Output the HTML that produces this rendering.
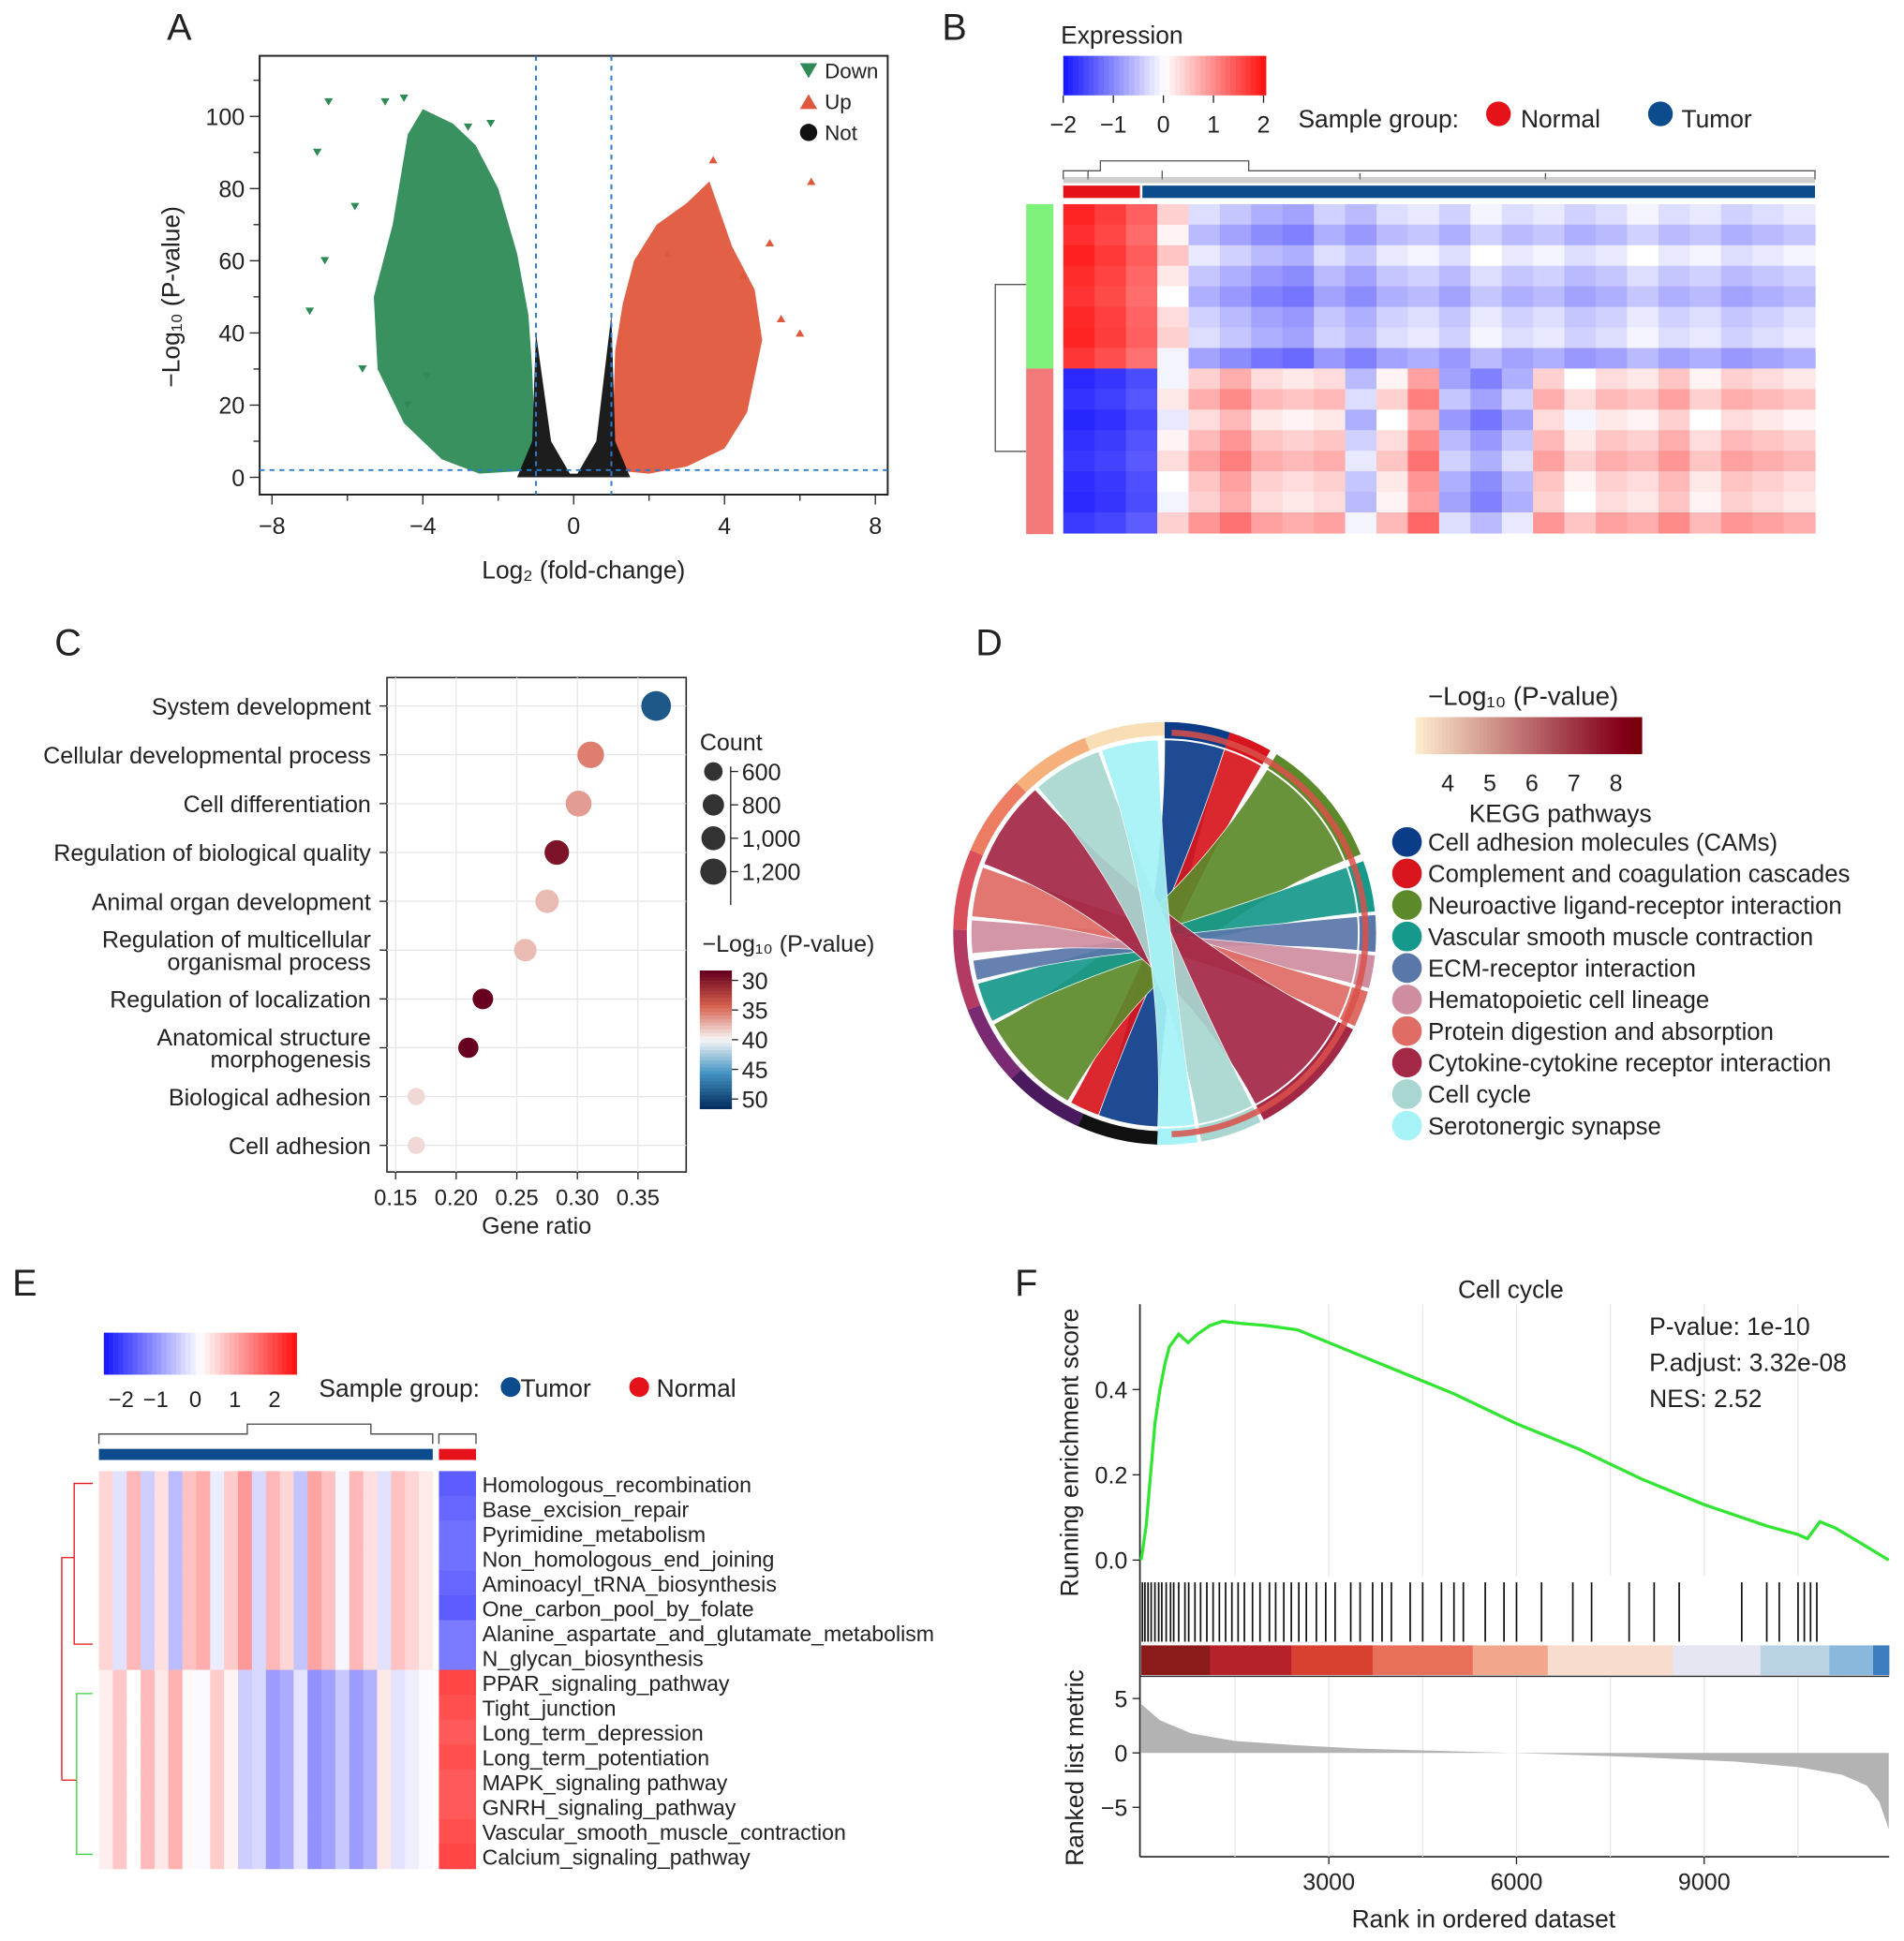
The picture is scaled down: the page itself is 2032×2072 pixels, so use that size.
<!DOCTYPE html>
<html><head><meta charset="utf-8">
<style>
html,body{margin:0;padding:0;background:#fff}
svg{display:block;font-family:"Liberation Sans",sans-serif}
</style></head>
<body>
<svg id="fig" xmlns="http://www.w3.org/2000/svg" width="2032" height="2072" viewBox="0 0 1540 1570">
<g id="A"></g>
<g id="B"></g>
<g id="C"></g>
<g id="D"></g>
<g id="E"></g>
<g id="F"></g>
</svg>
<script>
// ---------- data ----------
const volXTicks=[-8,-4,0,4,8];
const volYTicks=[0,20,40,60,80,100];
const downEnvelope=[[-1,2],[-1.1,30],[-1.2,45],[-1.5,62],[-2,80],[-2.6,92],[-3.2,98],[-4,102],[-4.4,95],[-4.8,70],[-5.3,50],[-5.2,30],[-4.5,15],[-3.5,5],[-2.5,1]];
const upEnvelope=[[1,2],[1.1,35],[1.3,48],[1.6,60],[2.2,70],[3,76],[3.6,82],[4.2,64],[4.8,52],[5,38],[4.6,18],[4,8],[3,3],[2,1]];
const notEnvelope=[[-1.5,0],[-1.1,10],[-1,40],[-0.6,10],[-0.1,1],[0.1,1],[0.6,10],[1,45],[1.1,10],[1.5,0]];
const downOut=[[-6.5,104],[-5,104],[-4.5,105],[-6.8,90],[-7,46],[-6.6,60],[-5.8,75],[-5.6,30],[-3.9,28],[-4.4,20],[-2.8,97],[-2.2,98]];
const upOut=[[6.3,82],[3.7,88],[6,40],[5.5,44],[5.2,65],[2.5,62],[4.5,56]];
const goTerms=["System development","Cellular developmental process","Cell differentiation","Regulation of biological quality","Animal organ development","Regulation of multicellular|organismal process","Regulation of localization","Anatomical structure|morphogenesis","Biological adhesion","Cell adhesion"];
const goRatio=[0.365,0.311,0.301,0.283,0.275,0.257,0.222,0.21,0.167,0.167];
const goCount=[1250,1000,950,850,780,720,600,580,430,420];
const goLogP=[48,36,37,31,38,38,30,30,39,39];
const goXTicks=[0.15,0.20,0.25,0.30,0.35];
const keggNames=["Cell adhesion molecules (CAMs)","Complement and coagulation cascades","Neuroactive ligand-receptor interaction","Vascular smooth muscle contraction","ECM-receptor interaction","Hematopoietic cell lineage","Protein digestion and absorption","Cytokine-cytokine receptor interaction","Cell cycle","Serotonergic synapse"];
const keggColors=["#0b3c88","#d8151d","#5c8a2b","#16998a","#5a77a9","#cf8ea0","#e06c66","#a32846","#a9d6d0","#a6f3f7"];
const keggSrc=[[-90,-72],[-72,-60],[-58,-22],[-20,-6],[-5,5],[6,15],[16,26],[27,62],[63,80],[81,92]];
const keggDst=[[92,110],[110,119],[120,152],[153,165],[166,172],[174,184],[185,200],[201,228],[229,250],[251,268]];
const hmBTop=[1.8,1.6,1.3,0.2,-0.5,-0.7,-0.9,-1.0,-0.6,-0.8,-0.5,-0.4,-0.6,-0.3,-0.5,-0.4,-0.6,-0.5,-0.3,-0.5,-0.4,-0.6,-0.5,-0.4];
const hmBBot=[-1.8,-1.7,-1.5,0.1,0.6,0.9,0.5,0.4,0.5,-0.4,0.3,1.0,-0.6,-0.9,-0.5,0.6,0.2,0.5,0.4,0.7,0.3,0.6,0.5,0.4];
const hmBRowMod=[0.2,-0.1,0.3,0,-0.2,0.1,0.2,-0.3];
const gseaRows=["Homologous_recombination","Base_excision_repair","Pyrimidine_metabolism","Non_homologous_end_joining","Aminoacyl_tRNA_biosynthesis","One_carbon_pool_by_folate","Alanine_aspartate_and_glutamate_metabolism","N_glycan_biosynthesis","PPAR_signaling_pathway","Tight_junction","Long_term_depression","Long_term_potentiation","MAPK_signaling pathway","GNRH_signaling_pathway","Vascular_smooth_muscle_contraction","Calcium_signaling_pathway"];
const hmETumorCols=[0.3,-0.4,0.6,-0.6,0.2,-0.8,0.5,0.7,-0.3,0.4,0.9,-0.5,0.6,0.3,-0.7,0.8,0.5,-0.2,0.6,0.2,-0.4,0.5,0.3,0.1];
const hmERowSign=[1,1,1,1,1,1,1,1,-1,-1,-1,-1,-1,-1,-1,-1];
const hmENormal=[-1.6,-1.5,-1.4,-1.4,-1.5,-1.6,-1.3,-1.3,1.8,1.7,1.6,1.7,1.6,1.6,1.7,1.8];
const esRank=[0,80,150,220,300,380,450,600,750,900,1100,1300,1600,2000,2500,3000,3500,4000,5000,6000,7000,8000,9000,10000,10500,10650,10850,11100,11500,11950];
const esVal=[0,0.08,0.2,0.32,0.4,0.46,0.5,0.53,0.51,0.53,0.55,0.56,0.555,0.55,0.54,0.51,0.48,0.45,0.39,0.32,0.26,0.19,0.13,0.08,0.06,0.05,0.09,0.075,0.04,0.0];
const hitRanks=[20,60,110,160,220,280,330,400,470,520,600,700,760,860,950,1050,1150,1250,1350,1450,1550,1650,1780,1900,2050,2150,2280,2400,2520,2640,2800,2950,3100,3350,3500,3700,3850,4000,4300,4500,4800,5000,5150,5500,5800,6000,6400,6900,7200,7800,8200,8600,9600,10000,10200,10500,10600,10700,10800];
const esYTicks=[0.0,0.2,0.4];
const rankXTicks=[3000,6000,9000];
const metricYTicks=[5,0,-5];
const metricRank=[0,300,800,1500,2500,3500,5000,6500,8000,9500,10500,11200,11600,11800,11950];
const metricVal=[4.5,3.0,1.8,1.1,0.7,0.4,0.15,-0.1,-0.4,-0.8,-1.3,-2.0,-3.0,-4.5,-7.0];

// ---------- helpers ----------
const NS="http://www.w3.org/2000/svg";
function el(parent,tag,attrs,txt){const e=document.createElementNS(NS,tag);for(const k in attrs)e.setAttribute(k,attrs[k]);if(txt!==undefined)e.textContent=txt;parent.appendChild(e);return e;}
function lerp(a,b,t){return a+(b-a)*t}
function divColor(v,lo,hi){
  let t=Math.max(-1,Math.min(1,v/hi));
  if(t<0){const s=-t;return `rgb(${Math.round(255-s*230)},${Math.round(255-s*230)},255)`;}
  return `rgb(255,${Math.round(255-t*235)},${Math.round(255-t*235)})`;
}
function txt(p,x,y,s,size,anchor,name,extra){const t=el(p,'text',Object.assign({x:x,y:y,'font-size':size||18,'text-anchor':anchor||'start',fill:'#222'},extra||{}),s);return t;}

// ---------- Panel A ----------
(function(){
const g=document.getElementById('A');
const X=v=>464+v*30.5, Y=v=>386-v*2.92;
txt(g,145,32,"A",30,'middle','panel-letter-a');
const ax=el(g,'rect',{x:210,y:45,width:508,height:355,fill:'none',stroke:'#222','stroke-width':1.5});

volXTicks.forEach(v=>{el(g,'line',{x1:X(v),x2:X(v),y1:400,y2:408,stroke:'#222'});txt(g,X(v),432,(v<0?'−':'')+Math.abs(v),19,'middle','x-tick-label');});
volYTicks.forEach(v=>{el(g,'line',{x1:202,x2:210,y1:Y(v),y2:Y(v),stroke:'#222'});txt(g,198,Y(v)+7,v,19,'end','y-tick-label');});
[-6,-2,2,6].forEach(v=>el(g,'line',{x1:X(v),x2:X(v),y1:400,y2:405,stroke:'#222'}));
[10,30,50,70,90,110].forEach(v=>el(g,'line',{x1:205,x2:210,y1:Y(v),y2:Y(v),stroke:'#222'}));
const poly=(pts,fill,name)=>{const p=el(g,'polygon',{points:pts.map(q=>X(q[0])+','+Y(q[1])).join(' '),fill:fill,opacity:0.95});};
poly(downEnvelope,'#2e8b57','down-cloud');
poly(upEnvelope,'#e0583c','up-cloud');
poly(notEnvelope,'#111','not-cloud');
downOut.forEach(q=>{const p=el(g,'polygon',{points:`${X(q[0])-3.5},${Y(q[1])-3} ${X(q[0])+3.5},${Y(q[1])-3} ${X(q[0])},${Y(q[1])+3}`,fill:'#2e8b57'});});
upOut.forEach(q=>{const p=el(g,'polygon',{points:`${X(q[0])-3.5},${Y(q[1])+3} ${X(q[0])+3.5},${Y(q[1])+3} ${X(q[0])},${Y(q[1])-3}`,fill:'#e0583c'});});
[[X(-1),45,X(-1),400],[X(1),45,X(1),400],[210,Y(2),718,Y(2)]].forEach(l=>el(g,'line',{x1:l[0],y1:l[1],x2:l[2],y2:l[3],stroke:'#2b7bd1','stroke-width':1.5,'stroke-dasharray':'4,4'}));
el(g,'polygon',{points:'647,51 661,51 654,63',fill:'#2e8b57'});txt(g,667,63,'Down',17,'start','legend-down');
el(g,'polygon',{points:'647,88 661,88 654,76',fill:'#e0583c'});txt(g,667,88,'Up',17,'start','legend-up');
el(g,'circle',{cx:654,cy:107,r:7,fill:'#111'});txt(g,667,113,'Not',17,'start','legend-not');
txt(g,472,468,'Log₂ (fold-change)',20,'middle','x-axis-title');
txt(g,0,0,'−Log₁₀ (P-value)',20,'middle','y-axis-title',{transform:'translate(145,240) rotate(-90)'});
})();

// ---------- Panel B ----------
(function(){
const g=document.getElementById('B');
txt(g,772,32,"B",30,'middle','panel-letter-b');
txt(g,858,35,'Expression',20,'start','legend-title');
for(let i=0;i<40;i++){const v=-2+4*i/39;el(g,'rect',{x:860+i*4.1,y:45,width:4.3,height:32,fill:divColor(v,-2,2)});}
[-2,-1,0,1,2].forEach((v,i)=>{const x=860+i*40.5;el(g,'line',{x1:x,x2:x,y1:77,y2:83,stroke:'#222'});txt(g,x,107,(v<0?'−':'')+Math.abs(v),19,'middle','colorbar-tick');});
txt(g,1050,103,'Sample group:',20,'start','sample-group-label');
el(g,'circle',{cx:1212,cy:92,r:10,fill:'#e5121a'});txt(g,1230,103,'Normal',20,'start','legend-normal');
el(g,'circle',{cx:1343,cy:92,r:10,fill:'#0d4c8c'});txt(g,1360,103,'Tumor',20,'start','legend-tumor');
el(g,'path',{d:'M860,145 L860,138 L890,138 L890,130 L1010,130 L1010,138 L1468,138 L1468,145 M880,138 L880,145 M940,138 L940,145 M1100,140 L1100,145 M1250,140 L1250,145',fill:'none',stroke:'#555','stroke-width':1});
el(g,'rect',{x:860,y:143,width:608,height:5,fill:'#888',opacity:0.4});
el(g,'rect',{x:860,y:150,width:62,height:10,fill:'#e5121a'});
el(g,'rect',{x:924,y:150,width:544,height:10,fill:'#0d4c8c'});
el(g,'rect',{x:830,y:165,width:22,height:133,fill:'#7ef27a'});
el(g,'rect',{x:830,y:298,width:22,height:134,fill:'#f27a7a'});
el(g,'path',{d:'M830,230 L805,230 L805,365 L830,365',fill:'none',stroke:'#555'});
const x0=860,w=608/hmBTop.length,rh=133/8;
hmBTop.forEach((v,c)=>hmBRowMod.forEach((m,r)=>{const cell=el(g,'rect',{x:x0+c*w,y:165+r*rh,width:w+0.5,height:rh+0.5,fill:divColor(v+m*(c>2?1:0.3),-2,2)});}));
hmBBot.forEach((v,c)=>hmBRowMod.forEach((m,r)=>{const cell=el(g,'rect',{x:x0+c*w,y:298+r*rh,width:w+0.5,height:rh+0.5,fill:divColor(v-m*(c>2?1:0.3),-2,2)});}));
})();

// ---------- Panel C ----------
(function(){
const g=document.getElementById('C');
txt(g,55,530,"C",30,'middle','panel-letter-c');
const X=v=>320+(v-0.15)*980;
const rowY=i=>571+i*39.5;
el(g,'rect',{x:313,y:548,width:242,height:400,fill:'#fff',stroke:'#222','stroke-width':1.2});
goXTicks.forEach(v=>{el(g,'line',{x1:X(v),x2:X(v),y1:548,y2:948,stroke:'#e6e6e6'});el(g,'line',{x1:X(v),x2:X(v),y1:948,y2:954,stroke:'#222'});txt(g,X(v),975,v.toFixed(2),18,'middle','x-tick-label');});
goTerms.forEach((t,i)=>{const y=rowY(i);el(g,'line',{x1:313,x2:555,y1:y,y2:y,stroke:'#e6e6e6'});el(g,'line',{x1:307,x2:313,y1:y,y2:y,stroke:'#222'});
  const parts=t.split('|');if(parts.length===1)txt(g,300,y+7,t,19,'end','y-term-label');else{txt(g,300,y-2,parts[0],19,'end','y-term-label');txt(g,300,y+16,parts[1],19,'end','y-term-label');}});
function pCol(p){let t=(p-30)/20;t=Math.max(0,Math.min(1,t));const stops=[[103,0,31],[214,96,77],[247,247,247],[67,147,195],[5,48,97]];const s=t*4,i=Math.min(3,Math.floor(s)),f=s-i;const a=stops[i],b=stops[i+1];return `rgb(${Math.round(lerp(a[0],b[0],f))},${Math.round(lerp(a[1],b[1],f))},${Math.round(lerp(a[2],b[2],f))})`;}
const R=c=>Math.sqrt(c)*0.34;
goRatio.forEach((v,i)=>{const c=el(g,'circle',{cx:X(v),cy:rowY(i),r:R(goCount[i]),fill:pCol(goLogP[i])});});
txt(g,434,998,'Gene ratio',19,'middle','x-axis-title');
txt(g,566,607,'Count',19,'start','size-legend-title');
[600,800,1000,1200].forEach((c,i)=>{const y=624+i*27;el(g,'circle',{cx:577,cy:y,r:R(c)*0.9,fill:'#333'});el(g,'line',{x1:591,x2:597,y1:y,y2:y,stroke:'#222'});txt(g,600,y+7,c===1000?'1,000':c===1200?'1,200':c,19,'start','size-legend-label');});
el(g,'line',{x1:591,x2:591,y1:620,y2:732,stroke:'#222'});
txt(g,568,770,'−Log₁₀ (P-value)',19,'start','color-legend-title');
for(let i=0;i<40;i++){el(g,'rect',{x:566,y:785+i*2.8,width:26,height:3,fill:pCol(30+i*20/39)});}
[30,35,40,45,50].forEach((v,i)=>{const y=793+i*24;txt(g,600,y+7,v,19,'start','color-legend-tick');el(g,'line',{x1:592,x2:597,y1:y,y2:y,stroke:'#222'});});
})();

// ---------- Panel D ----------
(function(){
const g=document.getElementById('D');
txt(g,800,530,"D",30,'middle','panel-letter-d');
const cx=942,cy=755,R=157;
const P=(a,r)=>[cx+r*Math.cos(a*Math.PI/180),cy+r*Math.sin(a*Math.PI/180)];
function arcPath(a1,a2,r1,r2){const p1=P(a1,r2),p2=P(a2,r2),p3=P(a2,r1),p4=P(a1,r1);const l=(a2-a1)>180?1:0;return `M${p1} A${r2},${r2} 0 ${l} 1 ${p2} L${p3} A${r1},${r1} 0 ${l} 0 ${p4}Z`;}
const ringCols=['#f7deb5','#f5b07c','#ec7c62','#d9505a','#b23a63','#7a2a72','#4a1a5e','#111'];
ringCols.forEach((c,i)=>{const a1=270-(i+1)*(178/8),a2=270-i*(178/8);el(g,'path',{d:arcPath(a1,a2,R+3,R+14),fill:c});});
keggSrc.forEach((s,i)=>{const d=keggDst[i];const a=P(s[0],R),b=P(s[1],R),c=P(d[0],R),e=P(d[1],R);
  const path=`M${a} A${R},${R} 0 0 1 ${b} Q${cx},${cy} ${c} A${R},${R} 0 0 1 ${e} Q${cx},${cy} ${a}Z`;
  const p=el(g,'path',{d:path,fill:keggColors[i],opacity:0.92,stroke:'#fff','stroke-width':0.6});
  const seg=el(g,'path',{d:arcPath(s[0],s[1],R,R+14),fill:keggColors[i]});});
el(g,'path',{d:arcPath(-88,88,R+3,R+8),fill:'#d9504a',opacity:0.85});
el(g,'circle',{cx:cx,cy:cy,r:R,fill:'none',stroke:'#fff','stroke-width':1.5});
txt(g,1155,570,'−Log₁₀ (P-value)',21,'start','color-legend-title');
for(let i=0;i<60;i++){const t=i/59;const c=`rgb(${Math.round(lerp(253,120,t))},${Math.round(lerp(235,0,Math.min(1,t*1.1)))},${Math.round(lerp(205,10,t))})`;el(g,'rect',{x:1145+i*3.05,y:580,width:3.3,height:30,fill:c});}
[4,5,6,7,8].forEach((v,i)=>txt(g,1171+i*34,640,v,19,'middle','colorbar-tick'));
txt(g,1262,665,'KEGG pathways',20,'middle','legend-title');
keggNames.forEach((n,i)=>{const y=681+i*25.5;const c=el(g,'circle',{cx:1138,cy:y,r:12,fill:keggColors[i]});txt(g,1155,y+7,n,19.5,'start','legend-entry');});
})();

// ---------- Panel E ----------
(function(){
const g=document.getElementById('E');
txt(g,20,1048,"E",30,'middle','panel-letter-e');
for(let i=0;i<40;i++){const v=-2.5+5*i/39;el(g,'rect',{x:84+i*3.9,y:1078,width:4.1,height:34,fill:divColor(v,-2.5,2.5)});}
[[-2,98],[-1,126],[0,158],[1,190],[2,222]].forEach(t=>txt(g,t[1],1138,(t[0]<0?'−':'')+Math.abs(t[0]),18,'middle','colorbar-tick'));
txt(g,258,1130,'Sample group:',20,'start','sample-group-label');
el(g,'circle',{cx:413,cy:1122,r:8,fill:'#0d4c8c'});txt(g,421,1130,'Tumor',20,'start','legend-tumor');
el(g,'circle',{cx:517,cy:1122,r:8,fill:'#e5121a'});txt(g,531,1130,'Normal',20,'start','legend-normal');
el(g,'path',{d:'M80,1168 L80,1160 L200,1160 L200,1152 L300,1152 L300,1160 L350,1160 L350,1168 M355,1168 L355,1160 L385,1160 L385,1168',fill:'none',stroke:'#444'});
el(g,'rect',{x:80,y:1172,width:270,height:9,fill:'#0d4c8c'});
el(g,'rect',{x:355,y:1172,width:30,height:9,fill:'#e5121a'});
const y0=1190,rh=20.1,cw=270/hmETumorCols.length;
gseaRows.forEach((n,r)=>{
  hmETumorCols.forEach((v,c)=>{const mid=(c>10&&c<20)?-0.6:0;const val=hmERowSign[r]>0?v*0.9+0.1:(-v*0.5+mid+0.3*(c<10?1:0));const cell=el(g,'rect',{x:80+c*cw,y:y0+r*rh,width:cw+0.4,height:rh+0.4,fill:divColor(val*1.2,-2.5,2.5)});});
  el(g,'rect',{x:355,y:y0+r*rh,width:30,height:rh+0.4,fill:divColor(hmENormal[r]*1.1,-2.5,2.5)});
  txt(g,390,y0+r*rh+17,n,17.5,'start','row-label');
});
el(g,'path',{d:'M75,1200 L60,1200 L60,1330 L75,1330 M60,1260 L50,1260 L50,1440 M62,1440 L50,1440',fill:'none',stroke:'#e5121a'});
el(g,'path',{d:'M75,1370 L62,1370 L62,1500 L75,1500',fill:'none',stroke:'#3ad13a'});
})();

// ---------- Panel F ----------
(function(){
const g=document.getElementById('F');
txt(g,830,1048,"F",30,'middle','panel-letter-f');
const X=r=>923+r*0.0506;
const Y=v=>1262-v*345;
const M=v=>1418-v*8.8;
const bottom=1502;
txt(g,1222,1050,'Cell cycle',20,'middle','chart-title');
el(g,'line',{x1:922,x2:922,y1:1055,y2:bottom,stroke:'#222','stroke-width':1.3});
el(g,'line',{x1:922,x2:1528,y1:bottom,y2:bottom,stroke:'#222','stroke-width':1.3});
[3000,6000,9000,1500,4500,7500,10500].forEach(v=>el(g,'line',{x1:X(v),x2:X(v),y1:1055,y2:1275,stroke:'#e8e8e8'}));
[3000,6000,9000,1500,4500,7500,10500].forEach(v=>el(g,'line',{x1:X(v),x2:X(v),y1:1357,y2:bottom,stroke:'#e8e8e8'}));
esYTicks.forEach(v=>{el(g,'line',{x1:916,x2:922,y1:Y(v),y2:Y(v),stroke:'#222'});txt(g,912,Y(v)+7,v.toFixed(1),19,'end','y-tick-label');});
const es=el(g,'polyline',{points:esRank.map((r,i)=>X(r)+','+Y(esVal[i])).join(' '),fill:'none',stroke:'#33e533','stroke-width':2.5});

hitRanks.forEach(r=>{const l=el(g,'line',{x1:X(r),x2:X(r),y1:1280,y2:1328,stroke:'#111','stroke-width':1.3});});
const barCols=['#8b1a1a','#b5222a','#d8402f','#e8705a','#f2a68c','#f8dccd','#e6e6f3','#b9d3e5','#8ab8dc','#3c7fc0'];
const barStops=[0,1100,2400,3700,5300,6500,8500,9900,11000,11700,11950];
barCols.forEach((c,i)=>el(g,'rect',{x:X(barStops[i]),y:1331,width:X(barStops[i+1])-X(barStops[i])+0.5,height:24,fill:c}));
el(g,'line',{x1:922,x2:1528,y1:1356,y2:1356,stroke:'#222'});
const area=el(g,'polygon',{points:X(0)+','+M(0)+' '+metricRank.map((r,i)=>X(r)+','+M(metricVal[i])).join(' ')+' '+X(11950)+','+M(0),fill:'#b3b3b3'});

metricYTicks.forEach(v=>{el(g,'line',{x1:916,x2:922,y1:M(v),y2:M(v),stroke:'#222'});txt(g,912,M(v)+7,v<0?'−'+Math.abs(v):v,19,'end','y-tick-label');});
rankXTicks.forEach(v=>{el(g,'line',{x1:X(v),x2:X(v),y1:bottom,y2:bottom+6,stroke:'#222'});txt(g,X(v),bottom+27,v,19,'middle','x-tick-label');});
txt(g,1200,bottom+57,'Rank in ordered dataset',20,'middle','x-axis-title');
txt(g,0,0,'Running enrichment score',20,'middle','y-axis-title',{transform:'translate(872,1175) rotate(-90)'});
txt(g,0,0,'Ranked list metric',20,'middle','y-axis-title',{transform:'translate(876,1430) rotate(-90)'});
txt(g,1334,1080,'P-value: 1e-10',20,'start','stat-pvalue');
txt(g,1334,1109,'P.adjust: 3.32e-08',20,'start','stat-padjust');
txt(g,1334,1138,'NES: 2.52',20,'start','stat-nes');
})();
</script>
</body></html>
